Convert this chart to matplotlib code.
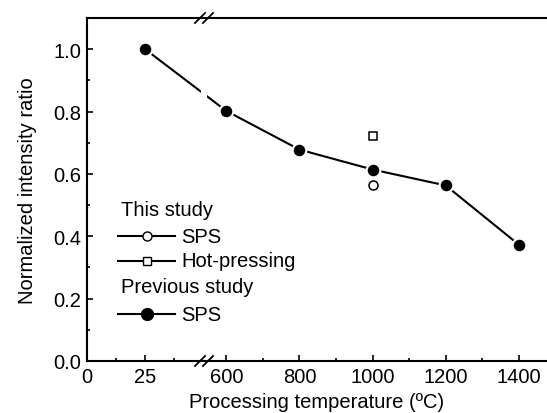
import numpy as np
import matplotlib
matplotlib.use('Agg')
import matplotlib.pyplot as plt
from matplotlib.ticker import FixedLocator, FormatStrFormatter

plt.rcParams['font.family'] = ['Liberation Sans', 'DejaVu Sans']
plt.rcParams['font.size'] = 14.5

# data
prev_temp = [25, 600, 800, 1000, 1200, 1400]
prev_ratio = [1.00, 0.802, 0.678, 0.614, 0.563, 0.373]
sps_temp = [1000]
sps_ratio = [0.566]
hp_temp = [1000]
hp_ratio = [0.721]

x_major = [0, 25, 600, 800, 1000, 1200, 1400]
x_minor = [12.5, 37.5, 700, 900, 1100, 1300]

# broken x axis: 0-50 stretched, 560+ compressed
xp = [-100, 50, 560, 2000]
fp = [-232, 116, 124.4, 124.4 + 1440 * 0.365]


def fwd(x):
    return np.interp(x, xp, fp)


def inv(p):
    return np.interp(p, fp, xp)


fig = plt.figure(figsize=(5.47, 4.14), dpi=100)
ax = fig.add_axes([87 / 547, 52 / 414, 1 - 87 / 547, 343 / 414])
ax.set_xscale('function', functions=(fwd, inv))

ax.plot(prev_temp, prev_ratio, color='black', lw=1.5, marker='o', ms=9.8,
        mfc='black', mec='white', mew=1.5, zorder=3)
ax.axvspan(49, 293, ymin=0.03, ymax=0.97, color='white', lw=0, zorder=3.1)
ax.plot(sps_temp, sps_ratio, ls='none', marker='o', ms=6.5, mfc='white',
        mec='black', mew=1.1, zorder=4)
ax.plot(hp_temp, hp_ratio, ls='none', marker='s', ms=5.5, mfc='white',
        mec='black', mew=1.1, zorder=4)

ax.set_xlim(0, 1477)
ax.set_ylim(0, 1.10)
ax.xaxis.set_major_locator(FixedLocator(x_major))
ax.xaxis.set_minor_locator(FixedLocator(x_minor))
ax.set_xticklabels([str(v) for v in x_major])
ax.set_yticks(np.arange(0, 1.01, 0.2))
ax.set_yticks(np.arange(0.1, 1.1, 0.2), minor=True)
ax.yaxis.set_major_formatter(FormatStrFormatter('%.1f'))
ax.tick_params(which='both', direction='in', width=1.2)
ax.tick_params(which='major', length=4, pad=4)
ax.tick_params(which='minor', length=2)
ax.spines['right'].set_visible(False)
for s in ['left', 'bottom', 'top']:
    ax.spines[s].set_linewidth(1.5)

ax.set_xlabel('Processing temperature (ºC)', labelpad=5)
ax.set_ylabel('Normalized intensity ratio', labelpad=12)

# break marks
for yb in (0, 1):
    for xc in (0.2457, 0.263):
        ax.plot([xc - 0.011, xc + 0.011], [yb - 0.0146, yb + 0.0146],
                transform=ax.transAxes, color='black', lw=1.3, clip_on=False,
                zorder=5)

# legend drawn by hand
lx0, lxm, lx1, tx = 0.067, 0.130, 0.191, 0.205
ax.text(0.073, 0.443, 'This study', transform=ax.transAxes, va='center',
        zorder=6)
ax.plot([lx0, lxm, lx1], [0.364] * 3, transform=ax.transAxes, color='black',
        lw=1.5, marker='o', markevery=[1], ms=6.5, mfc='white', mec='black',
        zorder=6)
ax.text(tx, 0.364, 'SPS', transform=ax.transAxes, va='center', zorder=6)
ax.plot([lx0, lxm, lx1], [0.292] * 3, transform=ax.transAxes, color='black',
        lw=1.5, marker='s', markevery=[1], ms=5.5, mfc='white', mec='black',
        zorder=6)
ax.text(tx, 0.292, 'Hot-pressing', transform=ax.transAxes, va='center',
        zorder=6)
ax.text(0.073, 0.216, 'Previous study', transform=ax.transAxes, va='center',
        zorder=6)
ax.plot([lx0, lxm, lx1], [0.137] * 3, transform=ax.transAxes, color='black',
        lw=1.5, marker='o', markevery=[1], ms=8.5, mfc='black', mec='black',
        zorder=6)
ax.text(tx, 0.137, 'SPS', transform=ax.transAxes, va='center', zorder=6)

fig.savefig('out.png', dpi=100)
